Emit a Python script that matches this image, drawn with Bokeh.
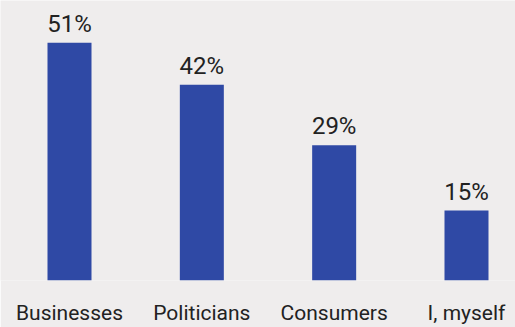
from bokeh.plotting import figure
from bokeh.models import Range1d, ColumnDataSource, FixedTicker
from bokeh.core.properties import value
from bokeh.embed import file_html
from bokeh.resources import INLINE

categories = ["Businesses", "Politicians", "Consumers", "I, myself"]
values = [51, 42, 29, 15]
value_labels = ["51%", "42%", "29%", "15%"]

xs = list(range(len(categories)))
src = ColumnDataSource(dict(x=xs, top=values, label=value_labels))

BG = "#efeded"
BAR = "#2f49a5"
TXT = "#222222"

p = figure(width=515, height=327, output_backend="svg", toolbar_location=None,
           x_range=Range1d(-0.5214, 3.3703), y_range=Range1d(0, 60.06),
           min_border_left=0, min_border_right=0, min_border_top=0, min_border_bottom=42,
           background_fill_color=BG, border_fill_color=BG, outline_line_color=None)

p.vbar(x="x", top="top", bottom=0, width=0.3325, source=src, fill_color=BAR, line_color=None)
p.text(x="x", y="top", text="label", source=src, text_align="center", text_baseline="bottom",
       y_offset=-5, text_font=value("Roboto"), text_font_size="24px", text_color=TXT)

p.yaxis.visible = False
p.xgrid.visible = False
p.ygrid.visible = False
p.xaxis.ticker = FixedTicker(ticks=xs)
p.xaxis.major_label_overrides = {i: c for i, c in zip(xs, categories)}
p.xaxis.axis_line_color = None
p.xaxis.major_tick_line_color = None
p.xaxis.minor_tick_line_color = None
p.xaxis.major_tick_in = 0
p.xaxis.major_tick_out = 0
p.xaxis.major_label_standoff = 20
p.xaxis.major_label_text_font = "Roboto"
p.xaxis.major_label_text_font_size = "21px"
p.xaxis.major_label_text_color = TXT

open("out.html", "w").write(file_html(p, INLINE))
